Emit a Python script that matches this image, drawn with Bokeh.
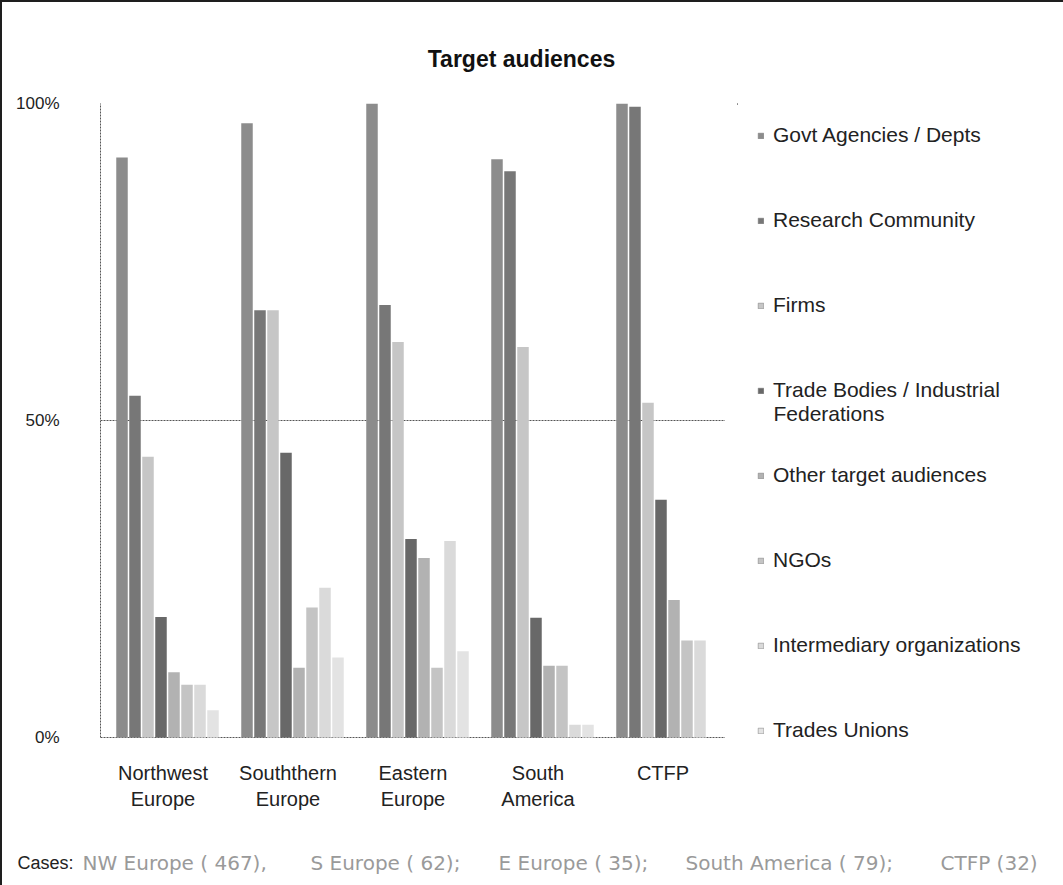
from bokeh.plotting import figure
from bokeh.layouts import column, row
from bokeh.models import (ColumnDataSource, Range1d, FixedTicker,
                          Legend, LegendItem, Label, PrintfTickFormatter, LinearAxis)
from bokeh.transform import dodge
from bokeh.embed import file_html
from bokeh.resources import INLINE

# ---------------- data ----------------
title = "Target audiences"
regions = ["Northwest Europe", "Souththern Europe", "Eastern Europe", "South America", "CTFP"]
region_line1 = ["Northwest", "Souththern", "Eastern", "South", "CTFP"]
region_line2 = ["Europe", "Europe", "Europe", "America", ""]

series = ["Govt Agencies / Depts", "Research Community", "Firms",
          "Trade Bodies / Industrial\nFederations", "Other target audiences", "NGOs",
          "Intermediary organizations", "Trades Unions"]

govt = [91.5, 96.9, 100.0, 91.2, 100.0]
research = [53.9, 67.4, 68.2, 89.3, 99.5]
firms = [44.3, 67.4, 62.4, 61.6, 52.8]
trade = [19.0, 44.9, 31.3, 18.9, 37.5]
other = [10.3, 11.0, 28.3, 11.3, 21.7]
ngos = [8.3, 20.5, 11.0, 11.3, 15.3]
intermediary = [8.3, 23.6, 31.0, 2.0, 15.3]
unions = [4.3, 12.6, 13.6, 2.0, 0.0]

case_texts = ["NW Europe ( 467),", "S Europe ( 62);", "E Europe ( 35);",
              "South America ( 79);", "CTFP (32)"]

values = [govt, research, firms, trade, other, ngos, intermediary, unions]
colors = ["#8c8c8c", "#777777", "#c6c6c6", "#686868", "#b2b2b2", "#c4c4c4", "#dadada", "#e3e3e3"]

FONT = "'Liberation Sans', Arial, sans-serif"
TXT = "#222222"

def blank(w, h, **kw):
    f = figure(width=w, height=h, output_backend="svg", toolbar_location=None,
               outline_line_color=None, background_fill_color="white",
               border_fill_color="white", **kw)
    f.axis.visible = False
    f.grid.visible = False
    return f

# ---------------- header (title) ----------------
HEAD_H = 80
hd = blank(1061, HEAD_H, x_range=Range1d(0, 1061), y_range=Range1d(HEAD_H, 0), min_border=0)
hd.add_layout(Label(x=519, y=56, text=title, text_font=FONT, text_font_size="23px",
                    text_font_style="bold", text_color="#111111",
                    text_align="center", text_baseline="middle"))

# ---------------- main chart ----------------
centers = [i + 0.5 for i in range(len(regions))]
src = ColumnDataSource(dict(region=regions, xi=centers,
                            **{f"s{i}": v for i, v in enumerate(values)}))

MAIN_W, ROW_H = 723, 740
BORDER_T, BORDER_B = 21, 75
p = figure(x_range=Range1d(0, len(regions)), y_range=Range1d(-1.58, 100),
           x_axis_location=None,
           width=MAIN_W, height=ROW_H,
           min_border_left=98, min_border_right=0,
           min_border_top=BORDER_T, min_border_bottom=BORDER_B,
           output_backend="svg", toolbar_location=None,
           background_fill_color="white", border_fill_color="white",
           outline_line_color=None)

renderers = []
for i, col in enumerate(colors):
    r = p.vbar(x=dodge("xi", -0.328 + 0.104 * i), top=f"s{i}", bottom=0,
               width=0.092, source=src, fill_color=col, line_color=None)
    renderers.append(r)

p.yaxis.ticker = FixedTicker(ticks=[0, 50, 100])
p.yaxis.formatter = PrintfTickFormatter(format="%d%%")
p.yaxis.bounds = (0, 100)
p.yaxis.major_tick_line_color = None
p.yaxis.minor_tick_line_color = None
p.yaxis.axis_line_color = "#555555"
p.yaxis.axis_line_dash = "2 1"
p.yaxis.major_label_standoff = 35
p.yaxis.major_label_text_font = FONT
p.yaxis.major_label_text_font_size = "17px"
p.yaxis.major_label_text_color = TXT

# two-line category labels: two stacked axes
def make_xaxis(labels, standoff):
    ax = LinearAxis(ticker=FixedTicker(ticks=centers),
                    major_label_overrides=dict(zip(centers, labels)))
    ax.major_tick_line_color = None
    ax.minor_tick_line_color = None
    ax.axis_line_color = None
    ax.major_label_standoff = standoff
    ax.major_label_text_font = FONT
    ax.major_label_text_font_size = "20px"
    ax.major_label_text_color = TXT
    return ax

p.add_layout(make_xaxis(region_line1, 8), "below")
p.add_layout(make_xaxis(region_line2, -5), "below")

p.xgrid.grid_line_color = None
p.ygrid.ticker = FixedTicker(ticks=[0, 50, 100])
p.ygrid.grid_line_color = "#555555"
p.ygrid.grid_line_dash = "2 1"

# ---------------- legend panel ----------------
LEG_W = 1061 - MAIN_W
LEG_L = 12
FRAME_H = ROW_H - BORDER_T - BORDER_B
lg = blank(LEG_W, ROW_H, x_range=Range1d(0, LEG_W - LEG_L), y_range=Range1d(FRAME_H, 0),
           min_border_left=LEG_L, min_border_top=BORDER_T,
           min_border_right=0, min_border_bottom=BORDER_B)
items = []
for name, col in zip(series, colors):
    # proxy renderer (kept outside the visible range) that supplies the legend swatch
    dr = lg.vbar(x=[-500], top=[1], bottom=[0], width=1, fill_color=col,
                 line_color="#777777", line_width=0.5)
    items.append(LegendItem(label=name.split("\n")[0], renderers=[dr]))
legend = Legend(items=items, location="top_left", orientation="vertical",
                glyph_width=7, glyph_height=7, label_standoff=9,
                label_height=24, spacing=61, padding=0, margin=20,
                label_text_font=FONT, label_text_font_size="21px",
                label_text_color=TXT,
                background_fill_alpha=0, border_line_color=None)
lg.add_layout(legend)
lg.add_layout(Label(x=36, y=310, text=series[3].split("\n")[1],
                    text_font=FONT, text_font_size="21px", text_color=TXT,
                    text_baseline="middle", text_align="left"))

# ---------------- footer ----------------
FOOT_H = 885 - 2 - HEAD_H - ROW_H
ft = blank(1061, FOOT_H, x_range=Range1d(0, 1061), y_range=Range1d(FOOT_H, 0), min_border=0)
ft.add_layout(Label(x=15, y=40, text="Cases:", text_font=FONT,
                    text_font_size="18px", text_color=TXT,
                    text_baseline="middle", text_align="left"))
for t, xpos in zip(case_texts, [80, 308, 496, 683, 938]):
    ft.add_layout(Label(x=xpos, y=40, text=t,
                        text_font="'DejaVu Sans', sans-serif",
                        text_font_size="20px", text_color="#9a9a9a",
                        text_baseline="middle", text_align="left"))

layout = column(hd, row(p, lg), ft,
                styles={"border-left": "2px solid #1e1e1e", "border-top": "2px solid #1e1e1e"})

open("out.html", "w").write(file_html(layout, INLINE))
